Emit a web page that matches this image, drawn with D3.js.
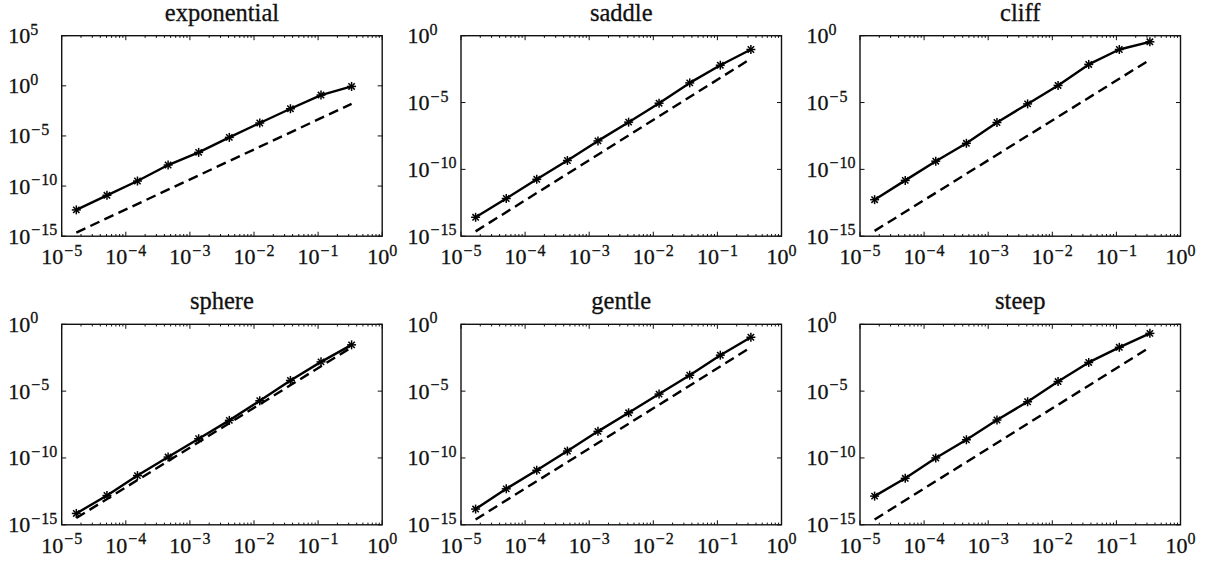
<!DOCTYPE html>
<html>
<head>
<meta charset="utf-8">
<script src="https://cdn.jsdelivr.net/npm/d3@7"></script>
<style>
  body { margin: 0; background: white; }
  svg text { font-family: "Liberation Serif", "DejaVu Serif", serif; fill: #111; stroke: #111; stroke-width: 0.3px; }
</style>
</head>
<body>
<svg id="chart" width="1210" height="561"></svg>
<script>
// step sizes h (same for every panel)
var hValues = [1.69e-5, 5.08e-5, 1.52e-4, 4.57e-4, 1.37e-3, 4.12e-3, 1.23e-2, 3.70e-2, 1.11e-1, 3.33e-1];

var panelNames = ["exponential", "saddle", "cliff", "sphere", "gentle", "steep"];

// measured error per panel
var errExponential = [4.2e-13, 1.2e-11, 3.2e-10, 1.26e-8, 2.3e-7, 7.2e-6, 1.95e-4, 5.2e-3, 0.12, 0.87];
var errSaddle = [2.6e-14, 6.6e-13, 1.8e-11, 4.6e-10, 1.35e-8, 3.4e-7, 8.9e-6, 2.95e-4, 6.2e-3, 9.3e-2];
var errCliff = [5.4e-13, 1.5e-11, 4.1e-10, 8.9e-9, 3.2e-7, 7.9e-6, 1.9e-4, 7.1e-3, 9.3e-2, 0.35];
var errSphere = [7.1e-15, 1.55e-13, 4.8e-12, 1.17e-10, 2.75e-9, 6.5e-8, 1.9e-6, 6.3e-5, 1.55e-3, 2.9e-2];
var errGentle = [1.5e-14, 4.9e-13, 1.2e-11, 3.3e-10, 9.8e-9, 2.4e-7, 6.0e-6, 1.55e-4, 4.9e-3, 0.107];
var errSteep = [1.4e-13, 3.0e-12, 1.0e-10, 2.3e-9, 6.9e-8, 1.6e-6, 5.2e-5, 1.4e-3, 1.9e-2, 0.21];

// dashed reference line end points (h^3 slope), first and last h
var refH = [1.69e-5, 3.33e-1];
var refExponential = [2.3e-15, 1.6e-2];
var refSaddle = [2.3e-15, 1.9e-2];
var refCliff = [2.5e-15, 1.6e-2];
var refSphere = [3.2e-15, 1.9e-2];
var refGentle = [2.5e-15, 1.9e-2];
var refSteep = [2.5e-15, 1.9e-2];

var errSeries = [errExponential, errSaddle, errCliff, errSphere, errGentle, errSteep];
var refSeries = [refExponential, refSaddle, refCliff, refSphere, refGentle, refSteep];

// axis ranges and tick labels
var xDomain = [1e-5, 1e0];
var xTickExps = [-5, -4, -3, -2, -1, 0];
var yDomains = [[1e-15, 1e5], [1e-15, 1e0], [1e-15, 1e0], [1e-15, 1e0], [1e-15, 1e0], [1e-15, 1e0]];
var yTickExps = [[-15, -10, -5, 0, 5], [-15, -10, -5, 0], [-15, -10, -5, 0], [-15, -10, -5, 0], [-15, -10, -5, 0], [-15, -10, -5, 0]];

const svg = d3.select("#chart");
const colLeft = [61.7, 461, 860];
const rowTop = [35.7, 324.3];
const plotW = 320.5;
const plotH = 200.5;

// "10" with a raised exponent, minus sign spaced like math text
function expLabel(sel, e) {
  sel.append("tspan").text("10");
  if (e < 0) {
    sel.append("tspan")
      .attr("dy", -8.5)
      .attr("dx", 1)
      .style("font-size", "16px")
      .text("\u2212");
    sel.append("tspan")
      .attr("dx", 1)
      .style("font-size", "16px")
      .text(String(Math.abs(e)));
  } else {
    sel.append("tspan")
      .attr("dy", -8.5)
      .style("font-size", "16px")
      .text(String(e));
  }
}

panelNames.forEach(function (name, i) {
  var left = colLeft[i % 3];
  var top = rowTop[Math.floor(i / 3)];
  var g = svg.append("g").attr("transform", `translate(${left},${top})`);

  var x = d3.scaleLog().domain(xDomain).range([0, plotW]);
  var y = d3.scaleLog().domain(yDomains[i]).range([plotH, 0]);

  // minor x ticks (2..9 each decade)
  var minorX = [];
  for (var d = -5; d < 0; d++) {
    for (var m = 2; m <= 9; m++) minorX.push(m * Math.pow(10, d));
  }
  var majorX = xTickExps.map((e) => Math.pow(10, e));
  var majorY = yTickExps[i].map((e) => Math.pow(10, e));

  var ticks = g.append("g").attr("stroke", "#111").attr("stroke-width", 1);
  minorX.forEach(function (v) {
    ticks.append("line").attr("x1", x(v)).attr("x2", x(v)).attr("y1", plotH).attr("y2", plotH - 2.2);
    ticks.append("line").attr("x1", x(v)).attr("x2", x(v)).attr("y1", 0).attr("y2", 2.2);
  });
  majorX.forEach(function (v) {
    ticks.append("line").attr("x1", x(v)).attr("x2", x(v)).attr("y1", plotH).attr("y2", plotH - 4.5);
    ticks.append("line").attr("x1", x(v)).attr("x2", x(v)).attr("y1", 0).attr("y2", 4.5);
  });
  majorY.forEach(function (v) {
    ticks.append("line").attr("x1", 0).attr("x2", 4.5).attr("y1", y(v)).attr("y2", y(v));
    ticks.append("line").attr("x1", plotW).attr("x2", plotW - 4.5).attr("y1", y(v)).attr("y2", y(v));
  });

  // tick labels
  xTickExps.forEach(function (e) {
    g.append("text")
      .attr("x", x(Math.pow(10, e)))
      .attr("y", plotH + 28)
      .attr("text-anchor", "middle")
      .style("font-size", "22px")
      .call(expLabel, e);
  });
  yTickExps[i].forEach(function (e) {
    g.append("text")
      .attr("x", -53.5)
      .attr("y", y(Math.pow(10, e)) + 7.5)
      .attr("text-anchor", "start")
      .style("font-size", "22px")
      .call(expLabel, e);
  });

  // title
  g.append("text")
    .attr("x", plotW / 2)
    .attr("y", -15)
    .attr("text-anchor", "middle")
    .style("font-size", "24.5px")
    .text(name);

  // reference dashed line
  var line = d3.line().x((d) => x(d[0])).y((d) => y(d[1]));
  g.append("path")
    .attr("d", line(d3.zip(refH, refSeries[i])))
    .attr("fill", "none")
    .attr("stroke", "#000")
    .attr("stroke-width", 2.4)
    .attr("stroke-dasharray", "10,5.5");

  // error curve
  var pts = d3.zip(hValues, errSeries[i]);
  g.append("path")
    .attr("d", line(pts))
    .attr("fill", "none")
    .attr("stroke", "#000")
    .attr("stroke-width", 2.4)
    .attr("stroke-linejoin", "round");

  // asterisk markers
  var r = 4.5;
  pts.forEach(function (p) {
    var cx = x(p[0]), cy = y(p[1]);
    var mk = g.append("g").attr("transform", `translate(${cx},${cy})`)
      .attr("stroke", "#000").attr("stroke-width", 1.5);
    [0, 45, 90, 135].forEach(function (a) {
      var rad = (a * Math.PI) / 180;
      mk.append("line")
        .attr("x1", -r * Math.cos(rad)).attr("y1", -r * Math.sin(rad))
        .attr("x2", r * Math.cos(rad)).attr("y2", r * Math.sin(rad));
    });
  });

  // frame
  g.append("rect")
    .attr("width", plotW)
    .attr("height", plotH)
    .attr("fill", "none")
    .attr("stroke", "#111")
    .attr("stroke-width", 1.4);
});
</script>
</body>
</html>
